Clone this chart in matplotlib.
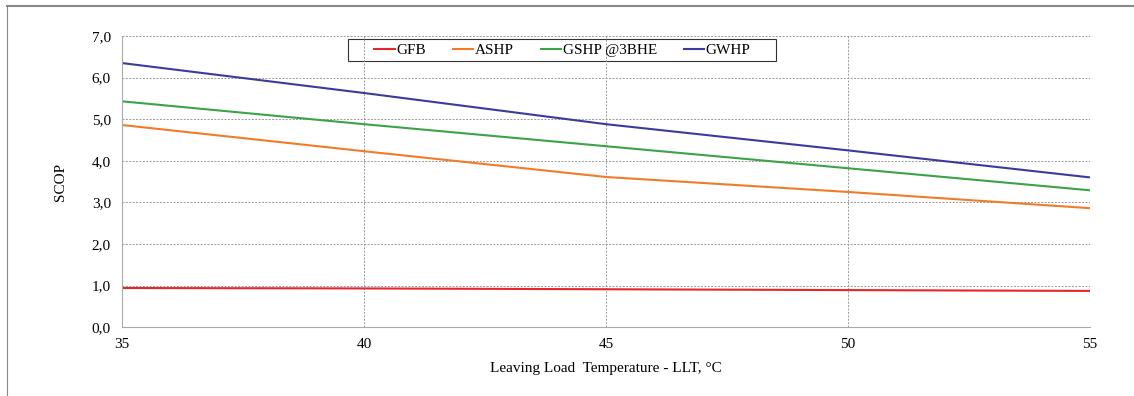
import matplotlib.pyplot as plt
from matplotlib.patches import Rectangle

# data
llt = [35, 40, 45, 50, 55]
gfb = [0.94, 0.93, 0.91, 0.89, 0.87]
ashp = [4.86, 4.23, 3.61, 3.25, 2.86]
gshp = [5.43, 4.88, 4.35, 3.82, 3.29]
gwhp = [6.35, 5.63, 4.88, 4.25, 3.60]

series = [("GFB", gfb, "#e8262a"), ("ASHP", ashp, "#f07c28"),
          ("GSHP @3BHE", gshp, "#3aa447"), ("GWHP", gwhp, "#3b3b9e")]

plt.rcParams['font.family'] = ['Liberation Serif', 'DejaVu Serif']

fig = plt.figure(figsize=(11.34, 3.96), dpi=100)
ax = fig.add_axes([0.1076, 0.174, 0.8536, 0.735])

for name, vals, col in series:
    ax.plot(llt, vals, color=col, lw=1.5, label=name)

ax.set_xlim(35, 55)
ax.set_ylim(0, 7)
ax.set_xticks(llt)
ax.set_yticks(range(8))
ax.set_yticklabels([f"{v},0" for v in range(8)])
ax.tick_params(labelsize=11, length=0, pad=8)
ax.grid(True, color="#999999", ls=(0, (2, 1.5)), lw=0.7)
for s in ["top", "right"]:
    ax.spines[s].set_visible(False)
for s in ["left", "bottom"]:
    ax.spines[s].set_color("#aaaaaa")
    ax.spines[s].set_linewidth(0.8)

ax.set_xlabel("Leaving Load  Temperature - LLT, \u00b0C", fontsize=11, labelpad=8)
ax.set_ylabel("SCOP", fontsize=11, labelpad=18)

# transparent legend, box drawn separately (grid shows through in the original)
leg = ax.legend(loc="center", bbox_to_anchor=(0.455, 0.952), ncol=4, fontsize=11,
                frameon=False, handlelength=1.35, handletextpad=0.1,
                columnspacing=1.75, borderpad=0.2)
ax.add_patch(Rectangle((0.2335, 0.914), 0.4421, 0.076, transform=ax.transAxes,
                       fill=False, edgecolor="#333333", lw=0.8, clip_on=False))

# outer border of the figure (top and left visible)
fig.add_artist(plt.Line2D([0.006, 1.0], [0.985, 0.985], transform=fig.transFigure,
                          color="#888888", lw=1.5))
fig.add_artist(plt.Line2D([0.006, 0.006], [0.0, 0.985], transform=fig.transFigure,
                          color="#888888", lw=0.8))

fig.savefig("out.png", dpi=100)
